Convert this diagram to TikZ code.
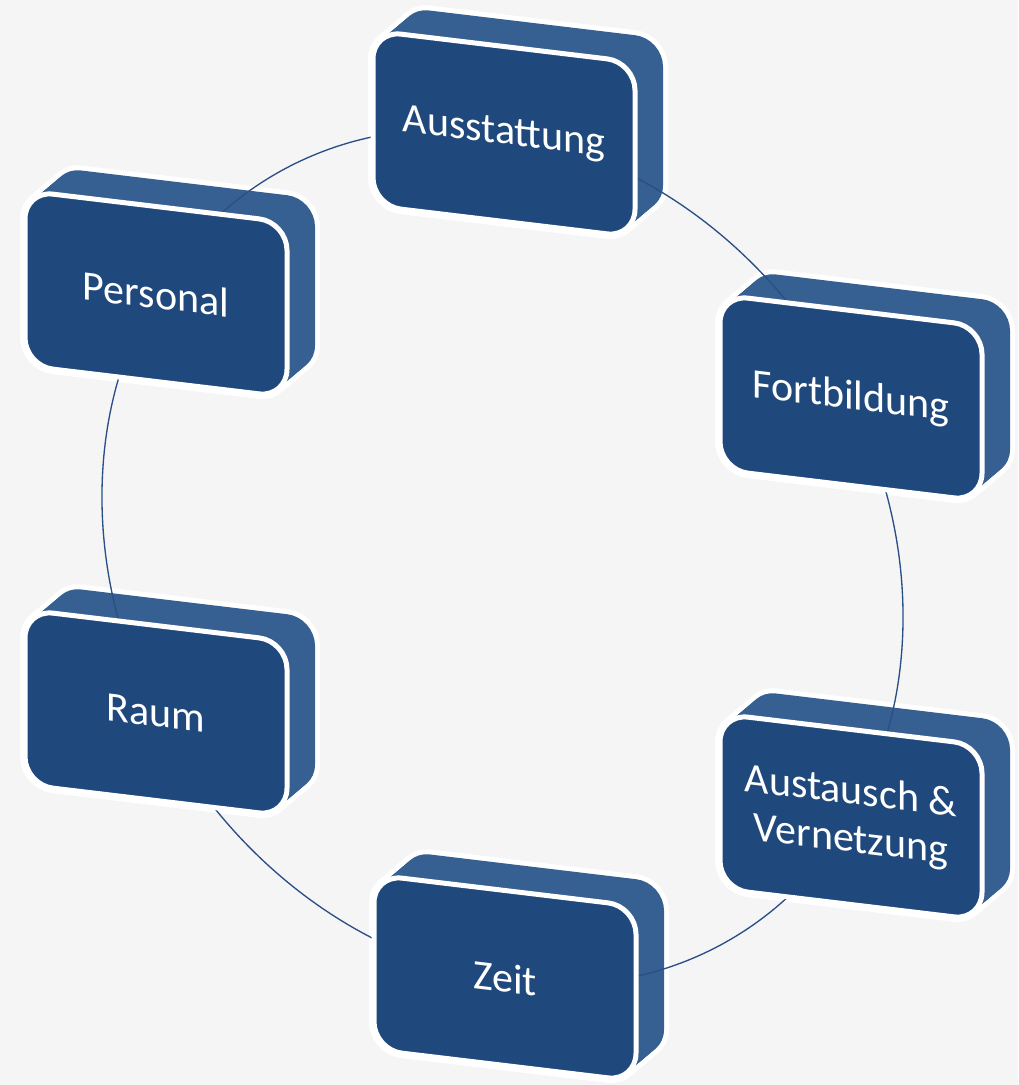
\documentclass[tikz,border=0pt]{standalone}
\usepackage{fontspec}
\setmainfont{Carlito}
\definecolor{bg}{HTML}{F5F5F5}
\definecolor{frontblue}{HTML}{1F487C}
\definecolor{sideblue}{HTML}{376092}
\definecolor{ringblue}{HTML}{2A4E86}
\tikzset{
  frontface/.style={draw=white, line width=3.75pt, fill=frontblue, rounded corners=21pt,
    minimum width=196.5pt, minimum height=131.25pt, text=white,
    font=\fontsize{31.5}{36}\selectfont, align=center, inner sep=0pt, transform shape},
  backlayer/.style={rounded corners=21pt},
  ring/.style={draw=ringblue, line width=1pt},
}
\newcommand\cubeback[2]{%
  \begin{scope}[shift={(#1,#2)}, yslant=-0.12]
    \foreach \t in {0,...,14}{\draw[backlayer, white, line width=7.5pt] ({-131+2*\t},{-87.5-1.93*\t}) rectangle ({131+2*\t},{87.5-1.93*\t});}
    \foreach \t in {0,...,14}{\fill[backlayer, sideblue] ({-131+2*\t},{-87.5-1.93*\t}) rectangle ({131+2*\t},{87.5-1.93*\t});}
  \end{scope}}
\newcommand\cubefront[4]{%
  \begin{scope}[shift={(#1,#2)}, yslant=-0.12]
    \node[frontface] (#3) at (0,0) {#4};
  \end{scope}}
\begin{document}
\begin{tikzpicture}[x=0.75pt,y=-0.75pt]
\fill[bg] (0,0) rectangle (1018,1085);
\useasboundingbox (0,0) rectangle (1018,1085);
% depth of the boxes
\cubeback{504}{134}
\cubeback{156}{294}
\cubeback{851}{398}
\cubeback{156}{713}
\cubeback{851}{817}
\cubeback{505}{978}
% ring
\begin{scope}[shift={(502.5,557)}, yslant=-0.15]
  \draw[ring] (0,0) ellipse [x radius=300.4pt, y radius=317.6pt];
\end{scope}
% front faces
\cubefront{504}{134}{ausstattung}{Ausstattung}
\cubefront{156}{294}{personal}{Personal}
\cubefront{851}{398}{fortbildung}{Fortbildung}
\cubefront{156}{713}{raum}{Raum}
\cubefront{851}{817}{austausch}{Austausch \&\\Vernetzung}
\cubefront{505}{978}{zeit}{Zeit}
\end{tikzpicture}
\end{document}
